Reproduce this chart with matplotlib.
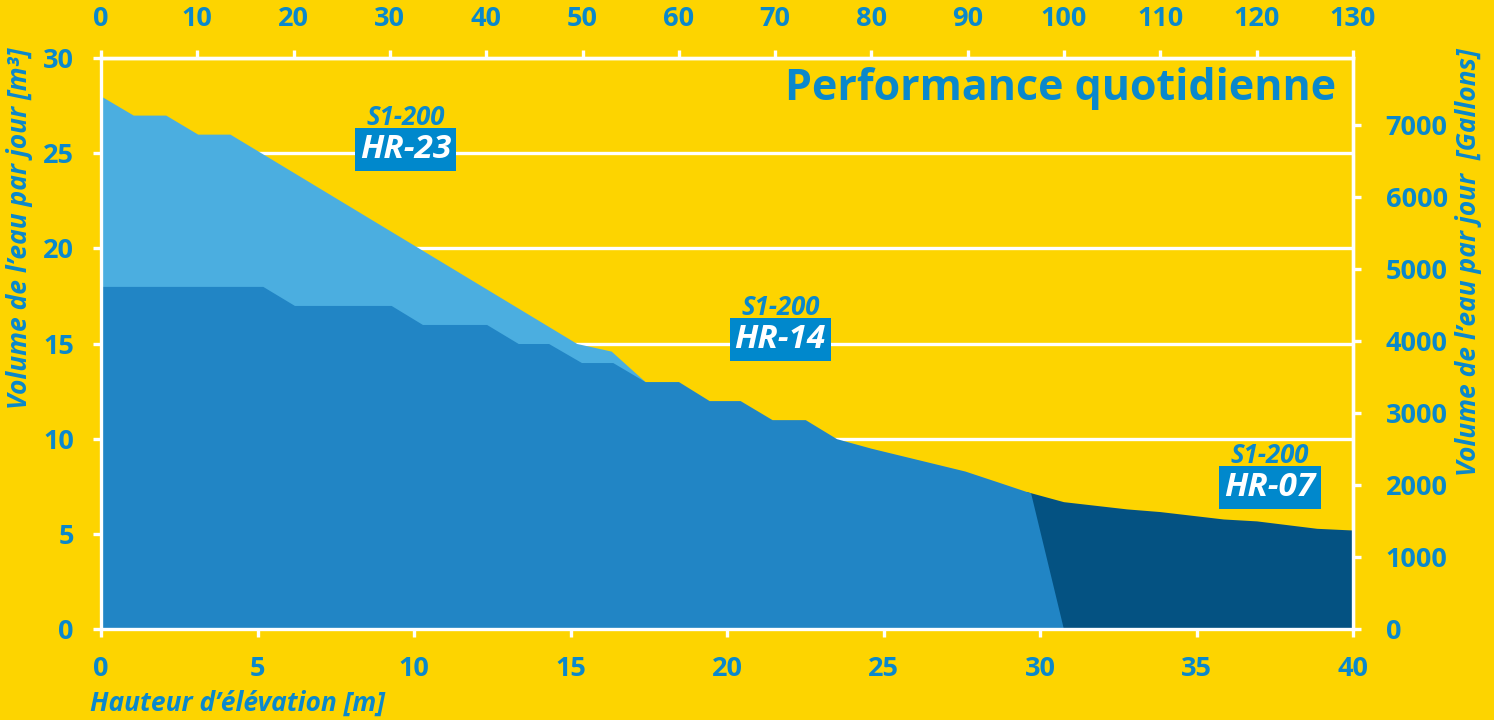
import matplotlib
matplotlib.use('Agg')
import matplotlib.pyplot as plt

# couleurs
YELLOW = '#FDD400'
BLUE_TXT = '#0A88CC'
BOX_BLUE = '#0088CC'
LIGHT = '#4BAEE0'
MEDIUM = '#2185C5'
DARK = '#045282'

GAL_PER_M3 = 264.17
FT_PER_M = 3.25

# donnees (hauteur m -> volume m3/jour)
hr23_x = [0, 1.03, 2.07, 3.09, 4.12, 5.13, 15.2, 16.3, 17.38]
hr23_y = [28, 27, 27, 26, 26, 25, 15, 14.6, 13]

hr14_x = [0, 5.17, 6.18, 9.27, 10.27, 12.32, 13.33, 14.3, 15.35, 16.35, 17.38, 18.45,
          19.43, 20.42, 21.44, 22.5, 23.5, 24.6, 25.6, 26.6, 27.6, 28.7, 29.7, 30.75]
hr14_y = [18, 18, 17, 17, 16, 16, 15, 15, 14, 14, 13, 13,
          12, 12, 11, 11, 10, 9.5, 9.1, 8.7, 8.3, 7.7, 7.15, 0]

hr07_x = [29.57, 30.75, 32.77, 33.83, 35.86, 36.92, 38.84, 40]
hr07_y = [7.22, 6.69, 6.31, 6.17, 5.78, 5.68, 5.29, 5.2]

models = ['HR-23', 'HR-14', 'HR-07']
label_x = [9.74, 21.7, 37.35]
label_y = [25.2, 15.2, 7.44]

x_ticks = [0, 5, 10, 15, 20, 25, 30, 35, 40]
y_ticks = [0, 5, 10, 15, 20, 25, 30]
ft_ticks = list(range(0, 131, 10))
gal_ticks = list(range(0, 7001, 1000))

plt.rcParams['font.family'] = ['Open Sans', 'DejaVu Sans']
plt.rcParams['font.weight'] = 'bold'

fig = plt.figure(figsize=(14.94, 7.2), dpi=100, facecolor=YELLOW)
ax = fig.add_axes([101 / 1494, 91 / 720, 1252 / 1494, 571 / 720])
ax.set_facecolor(YELLOW)

# aires
ax.fill_between(hr23_x, hr23_y, 0, color=LIGHT, lw=0)
ax.fill_between(hr07_x, hr07_y, 0, color=DARK, lw=0)
ax.fill_between(hr14_x, hr14_y, 0, color=MEDIUM, lw=0)

ax.set_xlim(0, 40)
ax.set_ylim(0, 30)
ax.set_xticks(x_ticks)
ax.set_yticks(y_ticks)
ax.set_axisbelow(True)
ax.grid(axis='y', color='white', lw=2.4)

tick_kw = dict(direction='out', length=5.5, width=2.4, color='white',
               labelcolor=BLUE_TXT, labelsize=19.5, pad=14)
ax.tick_params(**tick_kw)
for sp in ax.spines.values():
    sp.set_color('white')
    sp.set_linewidth(2.4)

# axe du haut (pieds) et axe de droite (gallons)
top = ax.secondary_xaxis('top', functions=(lambda v: v * FT_PER_M, lambda v: v / FT_PER_M))
top.set_xticks(ft_ticks)
top.tick_params(**dict(tick_kw, pad=13))
top.spines['top'].set_color('white')
top.spines['top'].set_linewidth(2.4)

right = ax.secondary_yaxis('right', functions=(lambda v: v * GAL_PER_M3, lambda v: v / GAL_PER_M3))
right.set_yticks(gal_ticks)
right.tick_params(**dict(tick_kw, pad=18))
right.spines['right'].set_color('white')
right.spines['right'].set_linewidth(2.4)

# etiquettes des modeles
for name, lx, ly in zip(models, label_x, label_y):
    ax.text(lx, ly + 1.7, 'S1-200', color=BLUE_TXT, style='italic', size=18.5,
            ha='center', va='center')
    ax.text(lx, ly, name, color='white', style='italic', size=24, ha='center', va='center',
            bbox=dict(boxstyle='square,pad=0.15', fc=BOX_BLUE, ec='none'))

fig.text(1336 / 1494, 1 - 88 / 720, 'Performance quotidienne', color=BLUE_TXT, size=31,
         ha='right', va='center')
fig.text(20 / 1494, 1 - 228 / 720, 'Volume de l’eau par jour [m³]', color=BLUE_TXT,
         style='italic', size=19, rotation=90, ha='center', va='center')
fig.text(1468 / 1494, 1 - 262 / 720, 'Volume de l’eau par jour  [Gallons]', color=BLUE_TXT,
         style='italic', size=19, rotation=90, ha='center', va='center')
fig.text(90 / 1494, 1 - 703 / 720, 'Hauteur d’élévation [m]', color=BLUE_TXT,
         style='italic', size=19, ha='left', va='center')

fig.savefig('out.png', dpi=100, facecolor=YELLOW)
